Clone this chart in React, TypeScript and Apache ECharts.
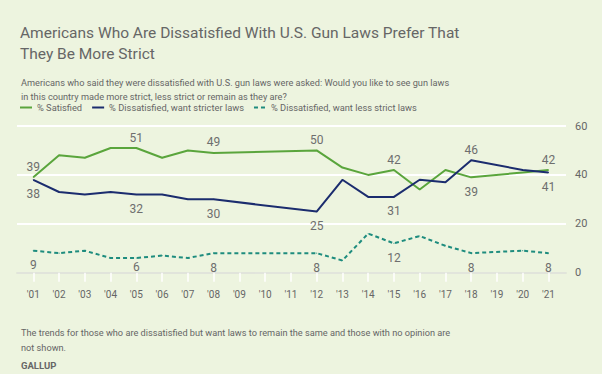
import React, { useEffect, useRef } from "react";
import * as echarts from "echarts";

// ---- data ----
const years = [2001, 2002, 2003, 2004, 2005, 2006, 2007, 2008, 2012, 2013, 2014, 2015, 2016, 2017, 2018, 2020, 2021];
const satisfied = [39, 48, 47, 51, 51, 47, 50, 49, 50, 43, 40, 42, 34, 42, 39, 41, 42];
const stricter = [38, 33, 32, 33, 32, 32, 30, 30, 25, 38, 31, 31, 38, 37, 46, 42, 41];
const lessStrict = [9, 8, 9, 6, 6, 7, 6, 8, 8, 5, 16, 12, 15, 11, 8, 9, 8];
const tickYears = [2001, 2002, 2003, 2004, 2005, 2006, 2007, 2008, 2009, 2010, 2011, 2012, 2013, 2014, 2015, 2016, 2017, 2018, 2019, 2020, 2021];
const yTicks = [0, 20, 40, 60];

// labelled points: [year, position]
const satisfiedLabels: [number, string][] = [[2001, "top"], [2005, "top"], [2008, "top"], [2012, "top"], [2015, "top"], [2018, "bottom"], [2021, "top"]];
const stricterLabels: [number, string][] = [[2001, "bottom"], [2005, "bottom"], [2008, "bottom"], [2012, "bottom"], [2015, "bottom"], [2018, "top"], [2021, "bottom"]];
const lessLabels: [number, string][] = [[2001, "bottom"], [2005, "bottom"], [2008, "bottom"], [2012, "bottom"], [2015, "bottom"], [2018, "bottom"], [2021, "bottom"]];

const seriesNames = ["% Satisfied", "% Dissatisfied, want stricter laws", "% Dissatisfied, want less strict laws"];
const titleText = "Americans Who Are Dissatisfied With U.S. Gun Laws Prefer That\nThey Be More Strict";
const subtitleText = "Americans who said they were dissatisfied with U.S. gun laws were asked: Would you like to see gun laws\nin this country made more strict, less strict or remain as they are?";
const footText = "The trends for those who are dissatisfied but want laws to remain the same and those with no opinion are\nnot shown.";
const sourceText = "GALLUP";

const FONT = "Roboto, 'Noto Sans', sans-serif";
const TEXT = "#666666";

function buildData(values: number[], labels: [number, string][], closeYear?: number) {
  return years.map((y, i) => {
    const l = labels.find((e) => e[0] === y);
    return {
      value: [y, values[i]],
      label: l
        ? {
            show: true,
            position: l[1],
            distance: l[1] === "top" ? 4 : y === closeYear ? 2 : 8,
          }
        : { show: false },
    };
  });
}

export default function App() {
  const ref = useRef<HTMLDivElement>(null);
  useEffect(() => {
    if (!ref.current) return;
    const chart = echarts.init(ref.current, undefined, { renderer: "svg" });
    const labelStyle = { color: "#6E6E6E", fontSize: 12, fontFamily: FONT, formatter: (p: any) => String(p.value[1]) };
    const lineCommon = { type: "line", symbol: "circle", symbolSize: 1, showSymbol: true, label: labelStyle, labelLayout: { hideOverlap: false } };
    chart.setOption({
      animation: false,
      backgroundColor: "#EDF4DF",
      textStyle: { fontFamily: FONT },
      title: [
        {
          text: titleText,
          left: 15,
          top: 17,
          textStyle: { fontSize: 15.5, lineHeight: 21.5, fontWeight: "normal", color: TEXT, fontFamily: FONT },
        },
        {
          text: subtitleText,
          left: 16,
          top: 70,
          textStyle: { fontSize: 9.2, lineHeight: 14.5, fontWeight: "normal", color: TEXT, fontFamily: FONT },
        },
        {
          text: footText,
          left: 16,
          top: 319.5,
          textStyle: { fontSize: 9.2, lineHeight: 15, fontWeight: "normal", color: TEXT, fontFamily: FONT },
        },
        {
          text: sourceText,
          left: 16,
          top: 355,
          textStyle: { fontSize: 9.5, fontWeight: "bold", color: TEXT, fontFamily: FONT },
        },
      ],
      legend: {
        left: 14,
        top: 98,
        itemWidth: 12,
        itemHeight: 10,
        itemGap: 9,
        itemStyle: { opacity: 0 },
        textStyle: { color: TEXT, fontSize: 9.3, fontFamily: FONT },
        data: seriesNames,
      },
      grid: { left: 17, right: 36, top: 126, bottom: 101.3 },
      xAxis: {
        type: "value",
        min: 2000.367,
        max: 2021.68,
        axisLine: { show: true, onZero: true, lineStyle: { color: "#D8DCD0", width: 1.5 } },
        axisTick: { show: true, customValues: tickYears, length: 9, lineStyle: { color: "#FFFFFF", width: 1.5 } },
        axisLabel: {
          customValues: tickYears,
          formatter: (v: number) => "'" + String(v).slice(2),
          color: TEXT,
          fontSize: 10,
          fontFamily: FONT,
          margin: 17,
        },
        splitLine: { show: false },
      },
      yAxis: {
        type: "value",
        position: "right",
        min: 0,
        max: 60,
        interval: 20,
        axisLine: { show: false },
        axisTick: { show: false },
        axisLabel: { color: TEXT, fontSize: 11, fontFamily: FONT, margin: 9, customValues: yTicks },
        splitLine: { show: true, lineStyle: { color: "#FFFFFF", width: 2 } },
      },
      series: [
        {
          ...lineCommon,
          name: seriesNames[0],
          data: buildData(satisfied, satisfiedLabels),
          lineStyle: { color: "#5AA53C", width: 2 },
          itemStyle: { color: "#5AA53C" },
          z: 3,
        },
        {
          ...lineCommon,
          name: seriesNames[1],
          data: buildData(stricter, stricterLabels),
          lineStyle: { color: "#1B2C6E", width: 2 },
          itemStyle: { color: "#1B2C6E" },
          z: 4,
        },
        {
          ...lineCommon,
          name: seriesNames[2],
          data: buildData(lessStrict, lessLabels, 2005),
          lineStyle: { color: "#1E8C7E", width: 2, type: [4, 3] },
          itemStyle: { color: "#1E8C7E" },
          z: 2,
        },
      ],
    });
    return () => chart.dispose();
  }, []);
  return <div ref={ref} style={{ position: "absolute", left: 0, top: 0, width: 602, height: 374 }} />;
}
